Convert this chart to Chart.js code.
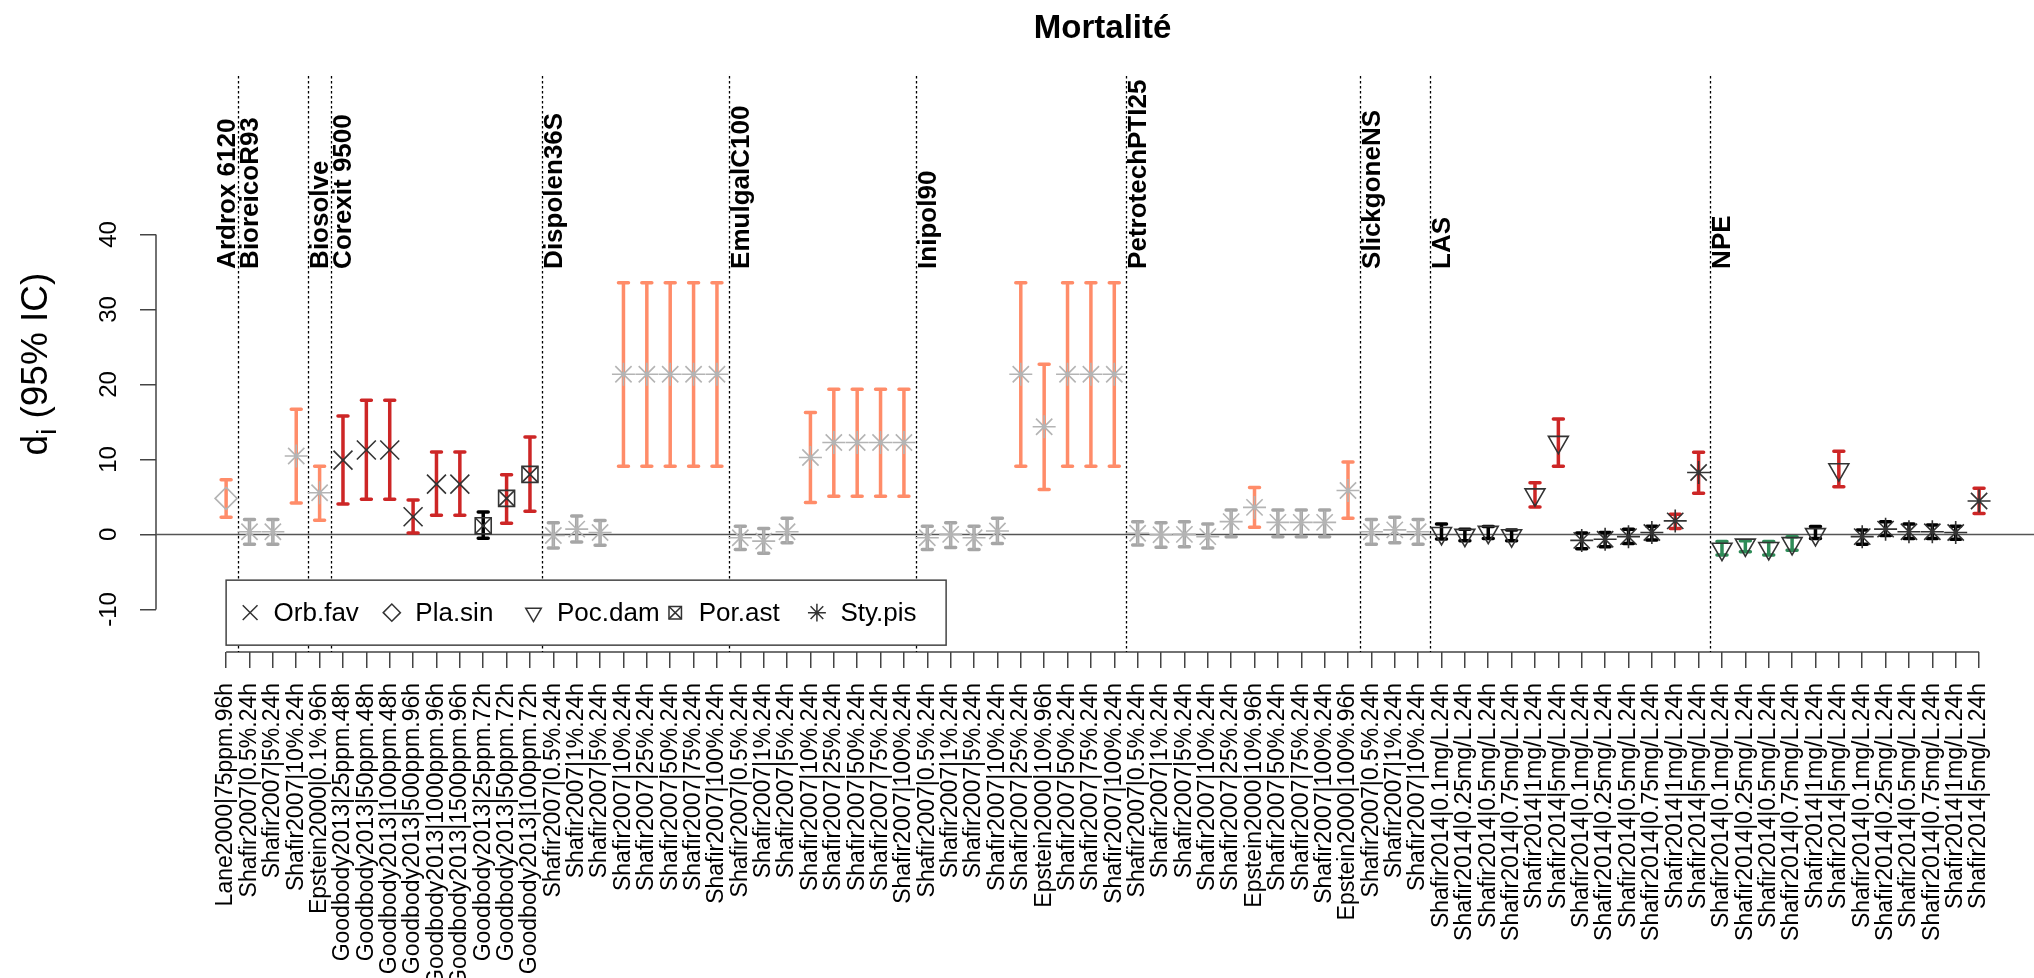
<!DOCTYPE html>
<html>
<head>
<meta charset="utf-8">
<title>Mortalité</title>
<script src="https://cdn.jsdelivr.net/npm/chart.js@4.4.1/dist/chart.umd.min.js"></script>
<style>
  html, body { margin: 0; padding: 0; background: #fff; overflow: hidden; }
  #wrap { width: 2034px; height: 978px; }
  canvas { display: block; }
</style>
</head>
<body>
<div id="wrap"><canvas id="chart" width="2034" height="978"></canvas></div>
<script>
const FONT = "'Liberation Sans', Arial, Helvetica, sans-serif";

// study | concentration . duration, one per x position
const labels = [
  'Lane2000|75ppm.96h',
  'Shafir2007|0.5%.24h', 'Shafir2007|5%.24h', 'Shafir2007|10%.24h',
  'Epstein2000|0.1%.96h',
  'Goodbody2013|25ppm.48h', 'Goodbody2013|50ppm.48h', 'Goodbody2013|100ppm.48h',
  'Goodbody2013|500ppm.96h', 'Goodbody2013|1000ppm.96h', 'Goodbody2013|1500ppm.96h',
  'Goodbody2013|25ppm.72h', 'Goodbody2013|50ppm.72h', 'Goodbody2013|100ppm.72h',
  'Shafir2007|0.5%.24h', 'Shafir2007|1%.24h', 'Shafir2007|5%.24h', 'Shafir2007|10%.24h',
  'Shafir2007|25%.24h', 'Shafir2007|50%.24h', 'Shafir2007|75%.24h', 'Shafir2007|100%.24h',
  'Shafir2007|0.5%.24h', 'Shafir2007|1%.24h', 'Shafir2007|5%.24h', 'Shafir2007|10%.24h',
  'Shafir2007|25%.24h', 'Shafir2007|50%.24h', 'Shafir2007|75%.24h', 'Shafir2007|100%.24h',
  'Shafir2007|0.5%.24h', 'Shafir2007|1%.24h', 'Shafir2007|5%.24h', 'Shafir2007|10%.24h',
  'Shafir2007|25%.24h', 'Epstein2000|10%.96h', 'Shafir2007|50%.24h', 'Shafir2007|75%.24h',
  'Shafir2007|100%.24h',
  'Shafir2007|0.5%.24h', 'Shafir2007|1%.24h', 'Shafir2007|5%.24h', 'Shafir2007|10%.24h',
  'Shafir2007|25%.24h', 'Epstein2000|10%.96h', 'Shafir2007|50%.24h', 'Shafir2007|75%.24h',
  'Shafir2007|100%.24h', 'Epstein2000|100%.96h',
  'Shafir2007|0.5%.24h', 'Shafir2007|1%.24h', 'Shafir2007|10%.24h',
  'Shafir2014|0.1mg/L.24h', 'Shafir2014|0.25mg/L.24h', 'Shafir2014|0.5mg/L.24h',
  'Shafir2014|0.75mg/L.24h', 'Shafir2014|1mg/L.24h', 'Shafir2014|5mg/L.24h',
  'Shafir2014|0.1mg/L.24h', 'Shafir2014|0.25mg/L.24h', 'Shafir2014|0.5mg/L.24h',
  'Shafir2014|0.75mg/L.24h', 'Shafir2014|1mg/L.24h', 'Shafir2014|5mg/L.24h',
  'Shafir2014|0.1mg/L.24h', 'Shafir2014|0.25mg/L.24h', 'Shafir2014|0.5mg/L.24h',
  'Shafir2014|0.75mg/L.24h', 'Shafir2014|1mg/L.24h', 'Shafir2014|5mg/L.24h',
  'Shafir2014|0.1mg/L.24h', 'Shafir2014|0.25mg/L.24h', 'Shafir2014|0.5mg/L.24h',
  'Shafir2014|0.75mg/L.24h', 'Shafir2014|1mg/L.24h', 'Shafir2014|5mg/L.24h'
];

// effect size d_i and its 95% interval
const est = [
  4.8, 0.35, 0.35, 10.45, 5.55, 9.9, 11.25, 11.25, 2.35, 6.7, 6.7, 1.15, 4.8, 8.0,
  -0.15, 0.7, 0.25, 21.35, 21.35, 21.35, 21.35, 21.35,
  -0.45, -0.9, 0.35, 10.25, 12.25, 12.25, 12.25, 12.25,
  -0.45, 0.0, -0.45, 0.45, 21.35, 14.35, 21.35, 21.35, 21.35,
  0.15, -0.05, 0.0, -0.3, 1.7, 3.6, 1.6, 1.6, 1.6, 5.85,
  0.35, 0.6, 0.35,
  0.15, -0.1, 0.3, -0.15, 5.3, 12.3, -0.8, -0.65, -0.3, 0.25, 1.8, 8.25,
  -1.95, -1.4, -1.85, -1.2, 0.0, 8.65, -0.3, 0.7, 0.35, 0.35, 0.25, 4.45
];
const lower = [
  2.3, -1.3, -1.3, 4.2, 1.9, 4.05, 4.7, 4.7, 0.2, 2.55, 2.55, -0.5, 1.5, 3.1,
  -1.8, -1.0, -1.45, 9.1, 9.1, 9.1, 9.1, 9.1,
  -2.0, -2.5, -1.1, 4.25, 5.1, 5.1, 5.1, 5.1,
  -2.0, -1.75, -2.0, -1.2, 9.1, 6.0, 9.1, 9.1, 9.1,
  -1.4, -1.7, -1.65, -1.8, -0.3, 0.95, -0.3, -0.3, -0.3, 2.15,
  -1.3, -1.1, -1.3,
  -0.6, -0.85, -0.55, -0.85, 3.65, 9.1, -1.9, -1.65, -1.2, -0.75, 0.8, 5.5,
  -2.75, -2.3, -2.75, -2.1, -0.55, 6.35, -1.3, -0.15, -0.55, -0.55, -0.65, 2.8
];
const upper = [
  7.3, 2.0, 2.0, 16.7, 9.1, 15.8, 17.9, 17.9, 4.6, 11.0, 11.0, 3.0, 7.95, 13.0,
  1.55, 2.45, 1.85, 33.55, 33.55, 33.55, 33.55, 33.55,
  1.1, 0.8, 2.15, 16.25, 19.35, 19.35, 19.35, 19.35,
  1.1, 1.55, 1.1, 2.15, 33.55, 22.7, 33.55, 33.55, 33.55,
  1.7, 1.55, 1.7, 1.4, 3.25, 6.25, 3.25, 3.25, 3.25, 9.65,
  2.0, 2.3, 2.0,
  1.4, 0.7, 1.05, 0.6, 6.9, 15.4, 0.2, 0.25, 0.7, 1.1, 2.7, 10.95,
  -0.95, -0.85, -0.95, -0.3, 1.05, 11.1, 0.6, 1.7, 1.4, 1.25, 1.1, 6.15
];

// coral species tested at each position
const species = [
  'Pla.sin',
  'Sty.pis', 'Sty.pis', 'Sty.pis', 'Sty.pis',
  'Orb.fav', 'Orb.fav', 'Orb.fav', 'Orb.fav', 'Orb.fav', 'Orb.fav',
  'Por.ast', 'Por.ast', 'Por.ast',
  'Sty.pis', 'Sty.pis', 'Sty.pis', 'Sty.pis', 'Sty.pis', 'Sty.pis', 'Sty.pis', 'Sty.pis',
  'Sty.pis', 'Sty.pis', 'Sty.pis', 'Sty.pis', 'Sty.pis', 'Sty.pis', 'Sty.pis', 'Sty.pis',
  'Sty.pis', 'Sty.pis', 'Sty.pis', 'Sty.pis', 'Sty.pis', 'Sty.pis', 'Sty.pis', 'Sty.pis', 'Sty.pis',
  'Sty.pis', 'Sty.pis', 'Sty.pis', 'Sty.pis', 'Sty.pis', 'Sty.pis', 'Sty.pis', 'Sty.pis', 'Sty.pis', 'Sty.pis',
  'Sty.pis', 'Sty.pis', 'Sty.pis',
  'Poc.dam', 'Poc.dam', 'Poc.dam', 'Poc.dam', 'Poc.dam', 'Poc.dam',
  'Sty.pis', 'Sty.pis', 'Sty.pis', 'Sty.pis', 'Sty.pis', 'Sty.pis',
  'Poc.dam', 'Poc.dam', 'Poc.dam', 'Poc.dam', 'Poc.dam', 'Poc.dam',
  'Sty.pis', 'Sty.pis', 'Sty.pis', 'Sty.pis', 'Sty.pis', 'Sty.pis'
];

// interval class: s = salmon, r = red, g = grey, k = black, v = green
const barClass = [
  's', 'g', 'g', 's', 's', 'r', 'r', 'r', 'r', 'r', 'r', 'k', 'r', 'r',
  'g', 'g', 'g', 's', 's', 's', 's', 's',
  'g', 'g', 'g', 's', 's', 's', 's', 's',
  'g', 'g', 'g', 'g', 's', 's', 's', 's', 's',
  'g', 'g', 'g', 'g', 'g', 's', 'g', 'g', 'g', 's',
  'g', 'g', 'g',
  'k', 'k', 'k', 'k', 'r', 'r', 'k', 'k', 'k', 'k', 'r', 'r',
  'v', 'v', 'v', 'v', 'k', 'r', 'k', 'k', 'k', 'k', 'k', 'r'
];

const groupNames = ['Ardrox 6120', 'BioreicoR93', 'Biosolve', 'Corexit 9500', 'Dispolen36S',
  'EmulgalC100', 'Inipol90', 'PetrotechPTI25', 'SlickgoneNS', 'LAS', 'NPE'];
const groupStarts = [0, 1, 4, 5, 14, 22, 30, 39, 49, 52, 64];

const yTicks = [-10, 0, 10, 20, 30, 40];
const speciesOrder = ['Orb.fav', 'Pla.sin', 'Poc.dam', 'Por.ast', 'Sty.pis'];

const studyTone = { Lane2000: 'light', Shafir2007: 'light', Epstein2000: 'light', Goodbody2013: 'dark', Shafir2014: 'dark' };
const toneColour = { light: '#b4b4b4', dark: '#333333' };
const barColour = { s: '#ff8c69', r: '#cd2626', g: '#a6a6a6', k: '#000000', v: '#2e8b57' };

const markers = {
  'Orb.fav': [{ pointStyle: 'crossRot', radius: 13.4 }],
  'Pla.sin': [{ pointStyle: 'rectRot', radius: 11 }],
  'Poc.dam': [{ pointStyle: 'triangle', radius: 11.5, rotation: 180 }],
  'Por.ast': [{ pointStyle: 'rect', radius: 11.3 }, { pointStyle: 'crossRot', radius: 11.3 }],
  'Sty.pis': [{ pointStyle: 'star', radius: 11.5 }]
};

const datasets = [];
speciesOrder.forEach(sp => {
  const pts = [];
  est.forEach((v, i) => {
    if (species[i] === sp) pts.push({ x: i, y: v, tone: studyTone[labels[i].split('|')[0]] });
  });
  markers[sp].forEach(m => {
    datasets.push({
      label: sp,
      data: pts,
      pointStyle: m.pointStyle,
      pointRadius: m.radius,
      pointRotation: m.rotation || 0,
      pointBorderWidth: 1.6,
      pointBackgroundColor: 'rgba(0,0,0,0)',
      pointBorderColor: c => toneColour[c.raw ? c.raw.tone : 'dark']
    });
  });
});

// R-like decorations: axis lines, zero line, separators, intervals, labels, legend
const rPlot = {
  id: 'rPlot',
  beforeDatasetsDraw(chart) {
    const { ctx, chartArea: a, scales: { x, y } } = chart;
    ctx.save();

    ctx.strokeStyle = '#444';
    ctx.lineWidth = 1.5;
    ctx.beginPath();
    ctx.moveTo(a.left, y.getPixelForValue(yTicks[0]));
    ctx.lineTo(a.left, y.getPixelForValue(yTicks[yTicks.length - 1]));
    ctx.moveTo(x.getPixelForValue(0), a.bottom);
    ctx.lineTo(x.getPixelForValue(labels.length - 1), a.bottom);
    ctx.stroke();

    const y0 = y.getPixelForValue(0);
    ctx.strokeStyle = '#555';
    ctx.beginPath();
    ctx.moveTo(a.left, y0);
    ctx.lineTo(a.right, y0);
    ctx.stroke();

    // dotted separators between products
    ctx.strokeStyle = '#000';
    ctx.lineWidth = 1.3;
    ctx.setLineDash([2.5, 2.5]);
    groupStarts.slice(1).forEach(s => {
      const gx = Math.round(x.getPixelForValue(s - 0.5)) + 0.5;
      ctx.beginPath();
      ctx.moveTo(gx, a.top);
      ctx.lineTo(gx, a.bottom);
      ctx.stroke();
    });
    ctx.setLineDash([]);

    // 95% intervals
    ctx.lineWidth = 3.5;
    ctx.lineCap = 'round';
    est.forEach((v, i) => {
      const px = x.getPixelForValue(i);
      const top = y.getPixelForValue(upper[i]);
      const bot = y.getPixelForValue(lower[i]);
      ctx.strokeStyle = barColour[barClass[i]];
      ctx.beginPath();
      ctx.moveTo(px, top); ctx.lineTo(px, bot);
      ctx.moveTo(px - 5, top); ctx.lineTo(px + 5, top);
      ctx.moveTo(px - 5, bot); ctx.lineTo(px + 5, bot);
      ctx.stroke();
    });
    ctx.restore();
  },
  afterDatasetsDraw(chart) {
    const { ctx, chartArea: a, scales: { x, y } } = chart;
    ctx.save();
    ctx.fillStyle = '#000';

    // product names
    ctx.font = 'bold 26px ' + FONT;
    ctx.textAlign = 'left';
    ctx.textBaseline = 'top';
    groupNames.forEach((name, g) => {
      ctx.save();
      ctx.translate(x.getPixelForValue(groupStarts[g] - 0.5), y.getPixelForValue(35.4));
      ctx.rotate(-Math.PI / 2);
      ctx.fillText(name, 0, 0);
      ctx.restore();
    });

    // legend box
    const lx = x.getPixelForValue(0);
    const ly = y.getPixelForValue(-6.1);
    const lw = 720, lh = 65;
    ctx.fillStyle = '#fff';
    ctx.fillRect(lx, ly, lw, lh);
    ctx.strokeStyle = '#444';
    ctx.lineWidth = 1.5;
    ctx.strokeRect(lx, ly, lw, lh);
    ctx.font = '26px ' + FONT;
    ctx.textBaseline = 'middle';
    speciesOrder.forEach((sp, k) => {
      const sx = lx + 24 + k * 141.7;
      const sy = ly + lh / 2;
      ctx.strokeStyle = '#333';
      ctx.fillStyle = 'rgba(0,0,0,0)';
      ctx.lineWidth = 1.5;
      markers[sp].forEach(m => {
        Chart.helpers.drawPoint(ctx, {
          pointStyle: m.pointStyle, radius: m.radius * 0.78,
          rotation: m.rotation || 0, borderWidth: 1.5
        }, sx, sy);
      });
      ctx.fillStyle = '#000';
      ctx.fillText(sp, sx + 23.5, sy + 1);
    });

    // title, centred on the full R plot region
    ctx.font = 'bold 33px ' + FONT;
    ctx.textAlign = 'center';
    ctx.textBaseline = 'middle';
    ctx.fillText('Mortalité', (a.left + x.getPixelForValue(78)) / 2, 29);

    // y axis title with subscript
    const big = 37, small = 27;
    ctx.save();
    ctx.translate(47, (a.top + a.bottom) / 2);
    ctx.rotate(-Math.PI / 2);
    ctx.textAlign = 'left';
    ctx.textBaseline = 'alphabetic';
    ctx.font = big + 'px ' + FONT;
    const wd = ctx.measureText('d').width;
    const rest = ' (95% IC)';
    const wr = ctx.measureText(rest).width;
    ctx.font = small + 'px ' + FONT;
    const wi = ctx.measureText('i').width;
    const x0 = -(wd + wi + wr) / 2;
    ctx.font = big + 'px ' + FONT;
    ctx.fillText('d', x0, 0);
    ctx.font = small + 'px ' + FONT;
    ctx.fillText('i', x0 + wd, 9);
    ctx.font = big + 'px ' + FONT;
    ctx.fillText(rest, x0 + wd + wi, 0);
    ctx.restore();

    ctx.restore();
  }
};

new Chart(document.getElementById('chart'), {
  type: 'scatter',
  data: { datasets },
  options: {
    responsive: false,
    maintainAspectRatio: false,
    animation: false,
    events: [],
    layout: { padding: { top: 76, left: 0, right: 0, bottom: 0 }, autoPadding: false },
    plugins: { legend: { display: false }, tooltip: { enabled: false }, title: { display: false } },
    scales: {
      x: {
        type: 'linear',
        min: -3,
        max: 77.35,
        afterBuildTicks: s => { s.ticks = labels.map((_, i) => ({ value: i })); },
        afterFit: s => { s.height = 326; },
        border: { display: false },
        grid: { drawOnChartArea: false, drawTicks: true, tickLength: 16, lineWidth: 1.5, color: '#444' },
        ticks: {
          autoSkip: false, minRotation: 90, maxRotation: 90, padding: 15, color: '#000',
          font: { family: FONT, size: 23 },
          callback: (v, i) => labels[i]
        }
      },
      y: {
        type: 'linear',
        min: -15.68,
        max: 61.12,
        afterBuildTicks: s => { s.ticks = yTicks.map(v => ({ value: v })); },
        afterFit: s => { s.width = 156; },
        border: { display: false },
        grid: { drawOnChartArea: false, drawTicks: true, tickLength: 16, lineWidth: 1.5, color: '#444' },
        ticks: {
          minRotation: 90, maxRotation: 90, crossAlign: 'center', padding: 13, color: '#000',
          font: { family: FONT, size: 24 }
        }
      }
    }
  },
  plugins: [rPlot]
});
</script>
</body>
</html>
